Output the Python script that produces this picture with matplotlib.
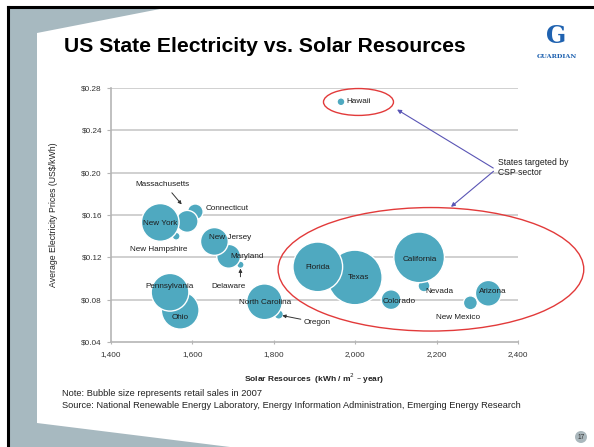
#!/usr/bin/env python3
"""US state electricity price vs. solar resource bubble chart (slide recreation)."""
import matplotlib

matplotlib.use("Agg")
import matplotlib.pyplot as plt
from matplotlib.patches import Ellipse, Polygon, Circle
import numpy as np

plt.rcParams["font.family"] = ["Liberation Sans", "DejaVu Sans"]

# state, solar resource (kWh/m2-year), avg price (US$/kWh), retail sales 2007 (TWh, est. from bubble area)
STATES = ["Oregon", "Delaware", "Nevada", "New Mexico", "Arizona", "Colorado",
          "Texas", "Florida", "California", "Hawaii", "Ohio", "Pennsylvania",
          "North Carolina", "Maryland", "New Jersey", "Connecticut",
          "Massachusetts", "New Hampshire", "New York"]
SOLAR = [1812, 1718, 2169, 2283, 2327, 2088,
         1999, 1908, 2157, 1965, 1570, 1545,
         1777, 1689, 1654, 1607,
         1587, 1560, 1521]
PRICE = [0.066, 0.113, 0.093, 0.077, 0.086, 0.080,
         0.101, 0.111, 0.120, 0.267, 0.070, 0.087,
         0.078, 0.121, 0.135, 0.163,
         0.154, 0.140, 0.153]
SALES = [10, 6, 16, 22, 75, 44,
         336, 278, 289, 7, 160, 160,
         144, 64, 87, 28,
         54, 7, 160]

Y_TICKS = [0.04, 0.08, 0.12, 0.16, 0.20, 0.24, 0.28]
X_TICKS = [1400, 1600, 1800, 2000, 2200, 2400]

# label text, x, y, ha
LABELS = [
    ("Hawaii", 1979, 0.267, "left"),
    ("Massachusetts", 1526, 0.189, "center"),
    ("Connecticut", 1632, 0.166, "left"),
    ("New York", 1521, 0.152, "center"),
    ("New Hampshire", 1516, 0.1275, "center"),
    ("New Jersey", 1693, 0.139, "center"),
    ("Maryland", 1735, 0.121, "center"),
    ("Delaware", 1688, 0.092, "center"),
    ("Pennsylvania", 1545, 0.092, "center"),
    ("Ohio", 1570, 0.0635, "center"),
    ("North Carolina", 1779, 0.077, "center"),
    ("Oregon", 1907, 0.058, "center"),
    ("Florida", 1907, 0.110, "center"),
    ("Texas", 2008, 0.101, "center"),
    ("California", 2159, 0.118, "center"),
    ("Nevada", 2206, 0.088, "center"),
    ("Colorado", 2107, 0.0786, "center"),
    ("Arizona", 2338, 0.088, "center"),
    ("New Mexico", 2252, 0.0635, "center"),
]
POINTERS = [  # (from, to) arrows for crowded labels
    ((1545, 0.183), (1578, 0.168)),
    ((1718, 0.099), (1718, 0.112)),
    ((1873, 0.061), (1814, 0.0655)),
]

BUBBLE = "#4fa9c0"
SLATE = "#a7b9c0"
RED = "#e23a3a"
ARROW = "#5a55b5"

fig = plt.figure(figsize=(5.94, 4.47), dpi=100)

# slide decoration
bg = fig.add_axes([0, 0, 1, 1])
bg.set_xlim(0, 594)
bg.set_ylim(447, 0)
bg.axis("off")
bg.add_patch(Polygon([(9, 8), (594, 8), (594, 9), (160, 9), (37, 33), (37, 423),
                      (230, 447), (9, 447)], closed=True, fc=SLATE, ec="none"))
bg.plot([8, 8], [7, 447], color="black", lw=2.2)
bg.plot([8, 594], [7, 7], color="black", lw=2.2)
bg.text(64, 47, "US State Electricity vs. Solar Resources", fontsize=15.2,
        fontweight="bold", va="center", ha="left")
bg.text(556, 36, "G", fontsize=17, fontweight="bold", color="#1f62b0",
        ha="center", va="center", family=["DejaVu Serif"])
bg.text(557, 57, "GUARDIAN", fontsize=4.6, fontweight="bold", color="#1f62b0",
        ha="center", va="center", family=["DejaVu Serif"])
bg.text(62, 393, "Note: Bubble size represents retail sales in 2007", fontsize=6.7,
        va="center", color="#222222")
bg.text(62, 405, "Source: National Renewable Energy Laboratory, Energy Information "
        "Administration, Emerging Energy Research", fontsize=6.7, va="center",
        color="#222222")
bg.add_patch(Circle((581, 437), 6, fc="#aab7bc", ec="none"))
bg.text(581, 437.5, "17", fontsize=4.8, ha="center", va="center", color="#333333")

# chart
ax = fig.add_axes([0.1869, 0.2349, 0.6852, 0.5682])
ax.set_xlim(1400, 2400)
ax.set_ylim(0.04, 0.28)
ax.set_facecolor("none")
for yv in Y_TICKS[1:]:
    ax.axhline(yv, color="#d0d0d0", lw=1.4, zorder=0)
for side in ("top", "right"):
    ax.spines[side].set_visible(False)
for side in ("left", "bottom"):
    ax.spines[side].set_color("#b5b5b5")
    ax.spines[side].set_linewidth(1.2)
ax.set_yticks(Y_TICKS)
ax.set_yticklabels([f"\\${v:.2f}" for v in Y_TICKS])
ax.set_xticks(X_TICKS)
ax.set_xticklabels([f"{v:,}" for v in X_TICKS])
ax.tick_params(axis="both", labelsize=5.9, colors="#b5b5b5", labelcolor="#333333",
               length=3, width=0.8)
ax.tick_params(axis="x", direction="inout", pad=5)
ax.set_xlabel("Solar Resources  (kWh / m$^2$ \u2013 year)", fontsize=6.0,
              fontweight="bold", labelpad=10, color="#222222")
ax.set_ylabel("Average Electricity Prices (US$/kWh)", fontsize=6.3,
              labelpad=17, color="#222222")

sizes = np.asarray(SALES, dtype=float) * 4.6
ax.scatter(SOLAR, PRICE, s=sizes, c=BUBBLE, edgecolors="white", linewidths=1.0,
           zorder=3)

for text, x, y, ha in LABELS:
    ax.text(x, y, text, fontsize=5.9, ha=ha, va="center", color="#1d1d1d", zorder=5)
for (x0, y0), (x1, y1) in POINTERS:
    ax.annotate("", xy=(x1, y1), xytext=(x0, y0), zorder=5,
                arrowprops=dict(arrowstyle="-|>", color="#333333", lw=0.7,
                                mutation_scale=5))

ax.add_patch(Ellipse((2008, 0.2668), 172, 0.0254, fill=False, ec=RED, lw=1.0,
                     zorder=4, clip_on=False))
ax.add_patch(Ellipse((2186, 0.1087), 751, 0.1167, fill=False, ec=RED, lw=1.0,
                     zorder=4, clip_on=False))

ax.text(2351, 0.205, "States targeted by\nCSP sector", fontsize=6.2, ha="left",
        va="center", color="#1d1d1d", linespacing=1.1, clip_on=False)
for end in [(2097, 0.261), (2230, 0.166)]:
    ax.annotate("", xy=end, xytext=(2345, 0.203), annotation_clip=False,
                arrowprops=dict(arrowstyle="-|>", color=ARROW, lw=0.8,
                                mutation_scale=6))

fig.savefig("out.png", dpi=100)
